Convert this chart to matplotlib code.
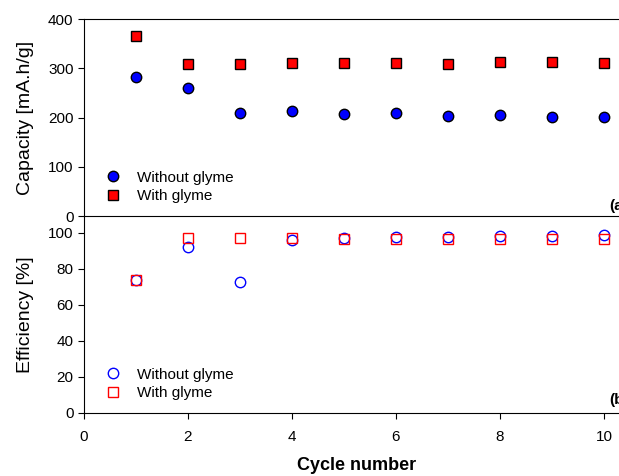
import matplotlib
matplotlib.use("Agg")
import matplotlib.pyplot as plt

plt.rcParams['font.family'] = ['Liberation Sans', 'DejaVu Sans']

cycles = [1, 2, 3, 4, 5, 6, 7, 8, 9, 10]
cap_without = [282, 260, 209, 214, 207, 210, 204, 206, 201, 202]
cap_with = [365, 309, 309, 311, 311, 310, 308, 313, 313, 311]
eff_without = [74, 92, 73, 96, 97, 97.5, 98, 98.5, 98.5, 99]
eff_with = [74, 97, 97, 97, 96.5, 96.5, 96.5, 96.5, 96.5, 96.5]

fig = plt.figure(figsize=(6.19, 4.76), dpi=100)
left = 84 / 619
width = 1 - left
ax2 = fig.add_axes([left, 63 / 476, width, 197 / 476])
ax1 = fig.add_axes([left, 260 / 476, width, 197 / 476])
ax1.patch.set_visible(False)

ms = 7.5
ax1.plot(cycles, cap_without, 'o', color='blue', mec='black', mew=1, ms=ms,
         label='Without glyme')
ax1.plot(cycles, cap_with, 's', color='red', mec='black', mew=1, ms=ms - 0.5,
         label='With glyme')
ax2.plot(cycles, eff_without, 'o', mfc='none', mec='blue', mew=1, ms=ms,
         label='Without glyme')
ax2.plot(cycles, eff_with, 's', mfc='none', mec='red', mew=1, ms=ms - 0.5,
         label='With glyme')

for ax in (ax1, ax2):
    ax.set_xlim(0, 10.29)
    ax.spines['right'].set_visible(False)
    ax.tick_params(direction='out', length=4, labelsize=11, colors='black')
    ax.tick_params(axis='x', pad=8)
    ax.set_xticks([0, 2, 4, 6, 8, 10])
    ax.legend(loc='lower left', bbox_to_anchor=(0.0, -0.005), frameon=False,
              fontsize=11, handletextpad=0.6, labelspacing=0.3)
    ax.yaxis.set_label_coords(-0.094, 0.5)

ax1.set_ylim(0, 400)
ax1.set_yticks([0, 100, 200, 300, 400])
ax1.tick_params(axis='x', bottom=False, labelbottom=False)
ax1.set_ylabel('Capacity [mA.h/g]', fontsize=14)

ax2.set_ylim(0, 109.4)
ax2.set_yticks([0, 20, 40, 60, 80, 100])
ax2.spines['top'].set_visible(False)
ax2.set_ylabel('Efficiency [%]', fontsize=14)

ax1.text(10.1, 12, '(a)', fontsize=11, fontweight='bold', clip_on=False)
ax2.text(10.1, 5, '(b)', fontsize=11, fontweight='bold', clip_on=False)

fig.text(357 / 619, 1 - 466 / 476, 'Cycle number', ha='center', va='center',
         fontsize=13, fontweight='bold')

fig.savefig('out.png', dpi=100)
